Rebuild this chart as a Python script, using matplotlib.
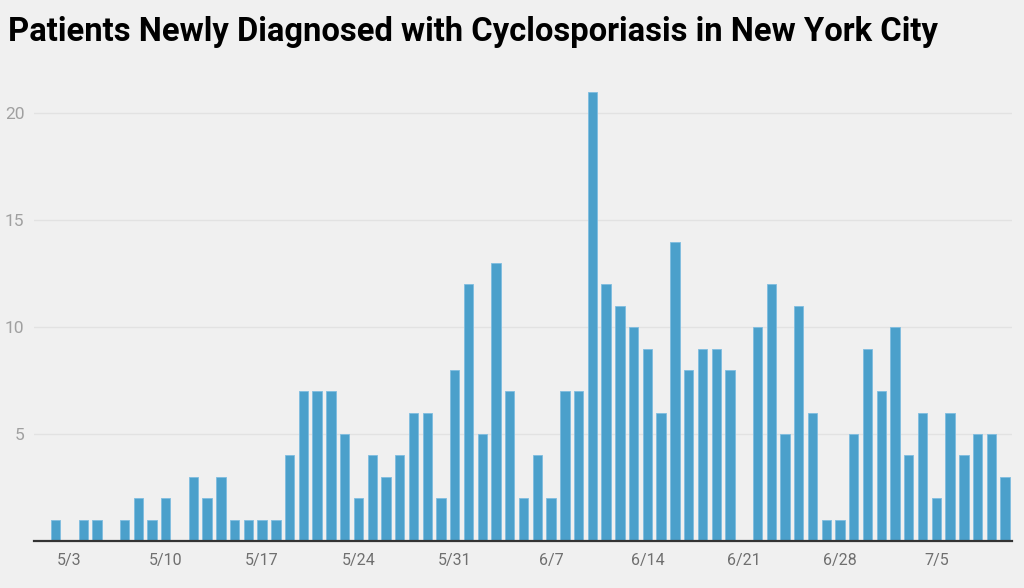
import datetime as dt

import matplotlib
matplotlib.use("Agg")
import matplotlib.pyplot as plt

# Daily counts of newly diagnosed patients, starting 5/2
start_date = dt.date(2020, 5, 2)
counts = [
    1, 0, 1, 1, 0, 1, 2, 1, 2, 0,      # 5/2 - 5/11
    3, 2, 3, 1, 1, 1, 1, 4, 7, 7,      # 5/12 - 5/21
    7, 5, 2, 4, 3, 4, 6, 6, 2, 8,      # 5/22 - 5/31
    12, 5, 13, 7, 2, 4, 2, 7, 7, 21,   # 6/1 - 6/10
    12, 11, 10, 9, 6, 14, 8, 9, 9, 8,  # 6/11 - 6/20
    0, 10, 12, 5, 11, 6, 1, 1, 5, 9,   # 6/21 - 6/30
    7, 10, 4, 6, 2, 6, 4, 5, 5, 3,     # 7/1 - 7/10
]
tick_labels = ["5/3", "5/10", "5/17", "5/24", "5/31", "6/7",
               "6/14", "6/21", "6/28", "7/5"]
y_ticks = [5, 10, 15, 20]

dates = [start_date + dt.timedelta(days=i) for i in range(len(counts))]
labels = [f"{d.month}/{d.day}" for d in dates]
x = list(range(len(counts)))
tick_pos = [labels.index(t) for t in tick_labels]

bg = "#f0f0f0"
bar_color = "#4ba0cb"

fig = plt.figure(figsize=(10.24, 5.88), dpi=100, facecolor=bg)
ax = fig.add_axes([34 / 1024, 47 / 588, (1012 - 34) / 1024, 481 / 588])
ax.set_facecolor(bg)

ax.bar(x, counts, width=0.68, color=bar_color, edgecolor="#7fbde0",
       linewidth=0.6, zorder=3)

ax.set_xlim(-1.58, 69.5)
ax.set_ylim(0, 22.5)

ax.set_yticks(y_ticks)
ax.set_yticklabels([str(v) for v in y_ticks])
ax.set_xticks(tick_pos)
ax.set_xticklabels(tick_labels)

ax.grid(axis="y", color="#e2e2e2", linewidth=1.0, zorder=0)
ax.tick_params(axis="y", length=0, pad=7, labelsize=12.5, labelcolor="#a0a0a0")
ax.tick_params(axis="x", length=0, pad=9, labelsize=11.5, labelcolor="#6f6f6f")
for lab in ax.get_xticklabels() + ax.get_yticklabels():
    lab.set_family("Roboto")

for side in ["top", "right", "left"]:
    ax.spines[side].set_visible(False)
ax.spines["bottom"].set_color("#333333")
ax.spines["bottom"].set_linewidth(1.6)
ax.spines["bottom"].set_zorder(4)

fig.text(8 / 1024, 1 - 32 / 588,
         "Patients Newly Diagnosed with Cyclosporiasis in New York City",
         fontsize=23.6, fontweight="bold", family="Roboto", color="#000000",
         ha="left", va="center")

fig.savefig("out.png", dpi=100, facecolor=bg)
